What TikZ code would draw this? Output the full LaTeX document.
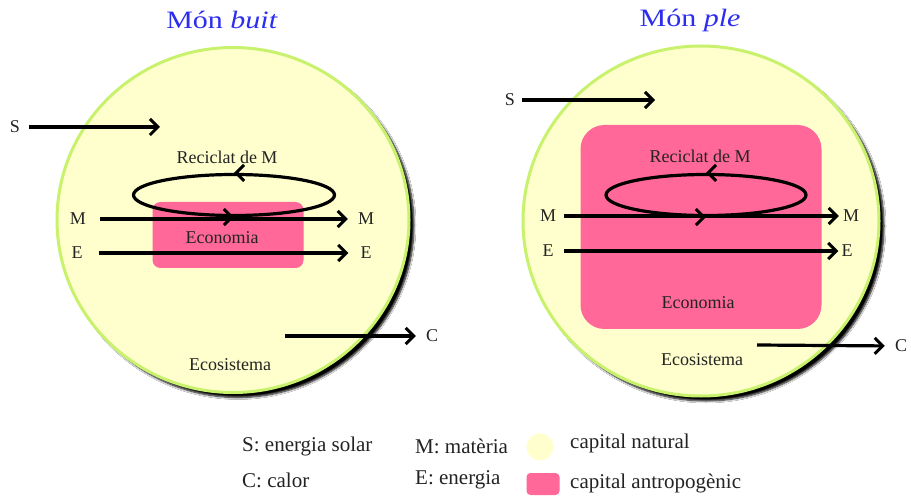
\documentclass[tikz,border=0pt]{standalone}
\usepackage{fontspec}
\setmainfont{Liberation Serif}
\newfontfamily\titlefont[FakeStretch=1.2]{Liberation Serif}
\usetikzlibrary{arrows.meta,shapes.geometric,shadows.blur}
\definecolor{natfill}{RGB}{255,255,206}
\definecolor{natline}{RGB}{200,242,110}
\definecolor{antro}{RGB}{255,104,152}
\definecolor{ttl}{RGB}{45,45,240}
\definecolor{txt}{RGB}{35,35,35}
\begin{document}
\begin{tikzpicture}[x=1pt,y=-1pt,
  lbl/.style={font=\fontsize{18}{20}\selectfont, text=txt, inner sep=0pt},
  leg/.style={font=\fontsize{21}{24}\selectfont, text=txt, inner sep=0pt, anchor=west},
  ttlstyle/.style={font=\titlefont\fontsize{25}{28}\selectfont, text=ttl, inner sep=0pt},
  world/.style={ellipse, draw=natline, line width=3pt, fill=natfill, inner sep=0pt,
    blur shadow={shadow xshift=5pt, shadow yshift=-5pt, shadow blur steps=6, shadow opacity=100, shadow blur radius=2pt}},
  econ/.style={rectangle, fill=antro, draw=none, inner sep=0pt},
  flow/.style={line width=3.2pt, -{Straight Barb[length=8pt,width=16pt,line width=3pt]}},
  tip/.style={line width=3.2pt, -{Straight Barb[length=8pt,width=16pt,line width=3pt]}},
  loopst/.style={ellipse, draw, line width=3.2pt, inner sep=0pt},
]
\useasboundingbox[fill=white] (0,0) rectangle (911,497);

% ---------------- left: Mon buit ----------------
\node[ttlstyle] (tL) at (222,20) {Món \textit{buit}};
\node[world, minimum width=352pt, minimum height=345pt] (worldL) at (233,220) {};
\node[econ, rounded corners=8pt, minimum width=151pt, minimum height=66pt] (econL) at (228,235) {};
\node[lbl] (ecotL) at (222,238) {Economia};
\node[lbl] (recL) at (227,157) {Reciclat de M};
\node[loopst, minimum width=201pt, minimum height=41pt] (loopL) at (234,195) {};
\draw[tip] ([xshift=4pt]loopL.north) -- (loopL.north);
\node[lbl] (ecosL) at (230,365) {Ecosistema};

\node[lbl] (sL) at (15,127) {S};
\coordinate (sLe) at (160,127);
\draw[flow, shorten <=9pt] (sL.east) -- (sLe);

\node[lbl] (mL1) at (78,219) {M};
\node[lbl] (mL2) at (366,219) {M};
\draw[flow, shorten <=14pt, shorten >=10pt] (mL1.east) -- (mL2.west);
\draw[tip] ([xshift=-4pt]loopL.south) -- (loopL.south);

\node[lbl] (eL1) at (77,253) {E};
\node[lbl] (eL2) at (366,253) {E};
\draw[flow, shorten <=16pt, shorten >=12pt] (eL1.east) -- (eL2.west);

\coordinate (cLs) at (285,336);
\node[lbl] (cL) at (432,336) {C};
\draw[flow, shorten >=10pt] (cLs) -- (cL.west);

% ---------------- right: Mon ple ----------------
\node[ttlstyle] (tR) at (690,20) {Món \textit{ple}};
\node[world, minimum width=356pt, minimum height=350pt] (worldR) at (701,221) {};
\node[econ, rounded corners=24pt, minimum width=241pt, minimum height=204pt] (econR) at (701,227) {};
\node[lbl] (ecotR) at (698,303) {Economia};
\node[lbl] (recR) at (700,156) {Reciclat de M};
\node[loopst, minimum width=200pt, minimum height=41pt] (loopR) at (706,195) {};
\draw[tip] ([xshift=4pt]loopR.north) -- (loopR.north);
\node[lbl] (ecosR) at (702,360) {Ecosistema};

\node[lbl] (sR) at (510,100) {S};
\coordinate (sRe) at (655,100);
\draw[flow, shorten <=7pt] (sR.east) -- (sRe);

\node[lbl] (mR1) at (548,216) {M};
\node[lbl] (mR2) at (851,216) {M};
\draw[flow, shorten <=8pt, shorten >=4pt] (mR1.east) -- (mR2.west);
\draw[tip] ([xshift=-4pt]loopR.south) -- (loopR.south);

\node[lbl] (eR1) at (548,251) {E};
\node[lbl] (eR2) at (847,251) {E};
\draw[flow, shorten <=10pt, shorten >=3pt] (eR1.east) -- (eR2.west);

\coordinate (cRs) at (757,345);
\node[lbl] (cR) at (901,346) {C};
\draw[flow, shorten >=10pt] (cRs) -- (cR.west);

% ---------------- legend ----------------
\node[leg] (lgS) at (242,446) {S: energia solar};
\node[leg] (lgC) at (242,480) {C: calor};
\node[leg] (lgM) at (415,446) {M: matèria};
\node[leg] (lgE) at (415,480) {E: energia};
\node[circle, fill=natfill, minimum size=27pt, inner sep=0pt] (lgNat) at (540,447) {};
\node[econ, rounded corners=4pt, minimum width=33pt, minimum height=22pt] (lgAnt) at (543,484) {};
\node[leg] (lgNt) at (570,443) {capital natural};
\node[leg] (lgAt) at (570,483) {capital antropogènic};
\end{tikzpicture}
\end{document}
